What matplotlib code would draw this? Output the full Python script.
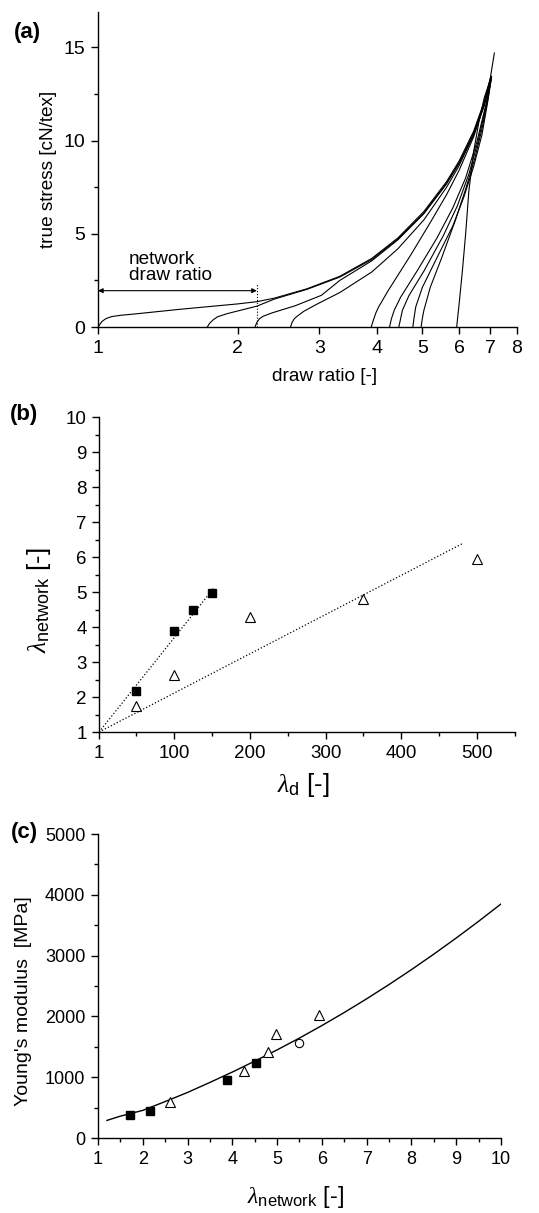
import numpy as np
import matplotlib.pyplot as plt
from matplotlib.ticker import FixedLocator, NullLocator, NullFormatter

plt.rcParams['font.family'] = ['Liberation Sans', 'DejaVu Sans']
plt.rcParams['mathtext.fontset'] = 'custom'
plt.rcParams['mathtext.rm'] = 'Liberation Sans'
plt.rcParams['mathtext.it'] = 'Liberation Serif:italic'
plt.rcParams['axes.linewidth'] = 1.0

# (a) true stress vs draw ratio, one curve per pre-drawn fibre
curve_x = [
    [1.0, 1.02, 1.04, 1.07, 1.12, 1.2, 1.5, 2.0, 2.2, 2.4, 2.82, 3.32, 3.89, 4.43, 5.04, 5.64, 6.0, 6.45, 6.8, 7.0, 7.15],
    [1.72, 1.74, 1.77, 1.81, 1.9, 2.0, 2.2, 2.4, 2.82, 3.32, 3.89, 4.43, 5.04, 5.64, 6.0, 6.45, 6.8, 7.02],
    [2.18, 2.2, 2.23, 2.27, 2.38, 2.66, 3.03, 3.32, 3.89, 4.43, 5.04, 5.64, 6.0, 6.45, 6.8, 7.03],
    [2.6, 2.62, 2.65, 2.7, 2.78, 2.96, 3.32, 3.89, 4.43, 5.04, 5.64, 6.0, 6.45, 6.8, 7.04],
    [3.88, 3.92, 3.97, 4.02, 4.22, 4.72, 5.2, 5.64, 6.0, 6.45, 6.8, 7.02],
    [4.25, 4.29, 4.35, 4.49, 4.87, 5.37, 5.82, 6.2, 6.55, 6.85, 7.03],
    [4.45, 4.49, 4.53, 4.68, 5.04, 5.55, 5.95, 6.3, 6.6, 6.88, 7.04],
    [4.77, 4.8, 4.84, 5.0, 5.37, 5.82, 6.15, 6.45, 6.72, 6.92, 7.05],
    [4.97, 5.0, 5.04, 5.2, 5.5, 5.9, 6.2, 6.48, 6.72, 6.92, 7.05],
    [5.93, 6.0, 6.1, 6.2, 6.3, 6.45, 6.62, 6.8, 6.95, 7.02],
]
curve_y = [
    [0.0, 0.3, 0.45, 0.56, 0.63, 0.70, 0.95, 1.24, 1.36, 1.55, 2.05, 2.72, 3.68, 4.78, 6.2, 7.8, 8.9, 10.5, 12.1, 13.3, 14.7],
    [0.0, 0.2, 0.38, 0.55, 0.72, 0.86, 1.12, 1.5, 2.02, 2.68, 3.62, 4.72, 6.12, 7.72, 8.8, 10.4, 12.0, 13.4],
    [0.0, 0.25, 0.45, 0.58, 0.77, 1.14, 1.7, 2.5, 3.55, 4.68, 6.08, 7.68, 8.78, 10.35, 11.95, 13.4],
    [0.0, 0.25, 0.45, 0.62, 0.85, 1.22, 1.85, 2.95, 4.2, 5.75, 7.5, 8.65, 10.3, 11.9, 13.35],
    [0.0, 0.35, 0.75, 1.05, 1.95, 3.86, 5.6, 7.1, 8.4, 10.2, 11.9, 13.3],
    [0.0, 0.45, 0.9, 1.6, 3.0, 4.75, 6.4, 8.0, 9.9, 11.9, 13.3],
    [0.0, 0.45, 0.9, 1.69, 3.0, 4.9, 6.5, 8.2, 10.0, 12.0, 13.35],
    [0.0, 0.5, 1.08, 2.12, 3.69, 5.43, 7.0, 8.6, 10.3, 12.1, 13.4],
    [0.0, 0.45, 0.9, 2.12, 3.69, 5.77, 7.4, 9.0, 10.6, 12.2, 13.45],
    [0.0, 1.2, 3.0, 5.0, 7.3, 9.4, 11.0, 12.3, 13.0, 13.3],
]
network_ratio = 2.2

# (b) network draw ratio vs lambda_d
sq_ld = [50, 100, 125, 150]
sq_lnet = [2.17, 3.88, 4.5, 4.97]
tri_ld = [50, 100, 200, 350, 500]
tri_lnet = [1.75, 2.62, 4.3, 4.8, 5.95]
fit1_x = [1, 152]
fit1_y = [1, 5.1]
fit2_x = [1, 482]
fit2_y = [1, 6.4]

# (c) Young's modulus vs network draw ratio
c_sq_x = [1.72, 2.17, 3.88, 4.52]
c_sq_y = [380, 440, 950, 1240]
c_tri_x = [2.6, 4.27, 4.8, 4.97, 5.93]
c_tri_y = [590, 1110, 1420, 1710, 2020]
c_circ_x = [5.5]
c_circ_y = [1560]
model_x = [1.2, 1.5, 2, 2.5, 3, 3.5, 4, 4.5, 5, 5.5, 6, 6.5, 7, 7.5, 8, 8.5, 9, 9.5, 10]
model_y = [290, 360, 455, 600, 750, 915, 1085, 1265, 1450, 1645, 1850, 2065, 2290, 2525, 2770, 3025, 3290, 3565, 3850]

fig = plt.figure(figsize=(5.39, 12.13), dpi=100)
axa = fig.add_axes([0.1818, 0.7304, 0.7774, 0.2597])
axb = fig.add_axes([0.1837, 0.3965, 0.7718, 0.2597])
axc = fig.add_axes([0.1818, 0.0618, 0.7477, 0.2506])

for ax in (axa, axb, axc):
    ax.spines['top'].set_visible(False)
    ax.spines['right'].set_visible(False)
    ax.tick_params(which='major', direction='out', length=5, width=1, labelsize=14, pad=4)
    ax.tick_params(which='minor', direction='out', length=3, width=1)

# ---- panel (a)
for xs, ys in zip(curve_x, curve_y):
    axa.plot(xs, ys, color='black', lw=0.8)
axa.set_xscale('log')
axa.set_xlim(1, 8)
axa.set_ylim(0, 16.9)
axa.xaxis.set_major_locator(FixedLocator([1, 2, 3, 4, 5, 6, 7, 8]))
axa.xaxis.set_major_formatter(plt.FuncFormatter(lambda v, p: f'{v:g}'))
axa.xaxis.set_minor_locator(NullLocator())
axa.xaxis.set_minor_formatter(NullFormatter())
axa.set_yticks([0, 5, 10, 15])
axa.yaxis.set_minor_locator(FixedLocator([2.5, 7.5, 12.5]))
axa.plot([network_ratio, network_ratio], [0, 2.3], color='black', lw=0.8, ls=':')
axa.annotate('', xy=(1.0, 1.95), xytext=(network_ratio, 1.95),
             arrowprops=dict(arrowstyle='<|-|>', color='black', lw=0.8,
                             mutation_scale=7, shrinkA=0, shrinkB=0))
axa.text(1.165, 2.3, 'network\ndraw ratio', fontsize=13.7, ha='left', va='bottom', linespacing=0.95)
axa.set_xlabel('draw ratio [-]', fontsize=13.7)
axa.xaxis.set_label_coords(0.54, -0.13)
axa.set_ylabel('true stress [cN/tex]', fontsize=13.7)
axa.yaxis.set_label_coords(-0.098, 0.5)

# ---- panel (b)
axb.plot(fit1_x, fit1_y, color='black', lw=0.9, ls=':')
axb.plot(fit2_x, fit2_y, color='black', lw=0.9, ls=':')
axb.plot(sq_ld, sq_lnet, 's', color='black', ms=5.8, ls='none')
axb.plot(tri_ld, tri_lnet, '^', mfc='white', mec='black', mew=0.8, ms=7.5, ls='none')
axb.set_xlim(1, 550)
axb.set_ylim(1, 10)
axb.set_xticks([1, 100, 200, 300, 400, 500])
axb.xaxis.set_minor_locator(FixedLocator([50, 150, 250, 350, 450, 550]))
axb.set_yticks(range(1, 11))
axb.yaxis.set_minor_locator(FixedLocator(np.arange(1.5, 10, 1.0)))
axb.tick_params(labelsize=13.5)
axb.set_xlabel(r'$\lambda_{\mathrm{d}}$ [-]', fontsize=18.5)
axb.xaxis.set_label_coords(0.49, -0.125)
axb.set_ylabel(r'$\lambda_{\mathrm{network}}$ [-]', fontsize=18.5)
axb.yaxis.set_label_coords(-0.11, 0.42)

# ---- panel (c)
axc.plot(model_x, model_y, color='black', lw=1.0)
axc.plot(c_sq_x, c_sq_y, 's', color='black', ms=5.8, ls='none')
axc.plot(c_tri_x, c_tri_y, '^', mfc='white', mec='black', mew=0.8, ms=7.3, ls='none')
axc.plot(c_circ_x, c_circ_y, 'o', mfc='white', mec='black', mew=0.8, ms=6, ls='none')
axc.set_xlim(1, 10)
axc.set_ylim(0, 5000)
axc.set_xticks(range(1, 11))
axc.xaxis.set_minor_locator(FixedLocator(np.arange(1.5, 10, 1.0)))
axc.set_yticks(range(0, 5001, 1000))
axc.yaxis.set_minor_locator(FixedLocator(range(500, 5000, 1000)))
axc.tick_params(labelsize=13)
axc.set_xlabel(r'$\lambda_{\mathrm{network}}$ [-]', fontsize=17)
axc.xaxis.set_label_coords(0.49, -0.15)
axc.set_ylabel("Young's modulus  [MPa]", fontsize=14)
axc.yaxis.set_label_coords(-0.164, 0.45)

fig.text(0.05, 0.9736, '(a)', fontsize=16, fontweight='bold', ha='center', va='center')
fig.text(0.045, 0.658, '(b)', fontsize=16, fontweight='bold', ha='center', va='center')
fig.text(0.046, 0.3133, '(c)', fontsize=16, fontweight='bold', ha='center', va='center')

fig.savefig('out.png', dpi=100)
